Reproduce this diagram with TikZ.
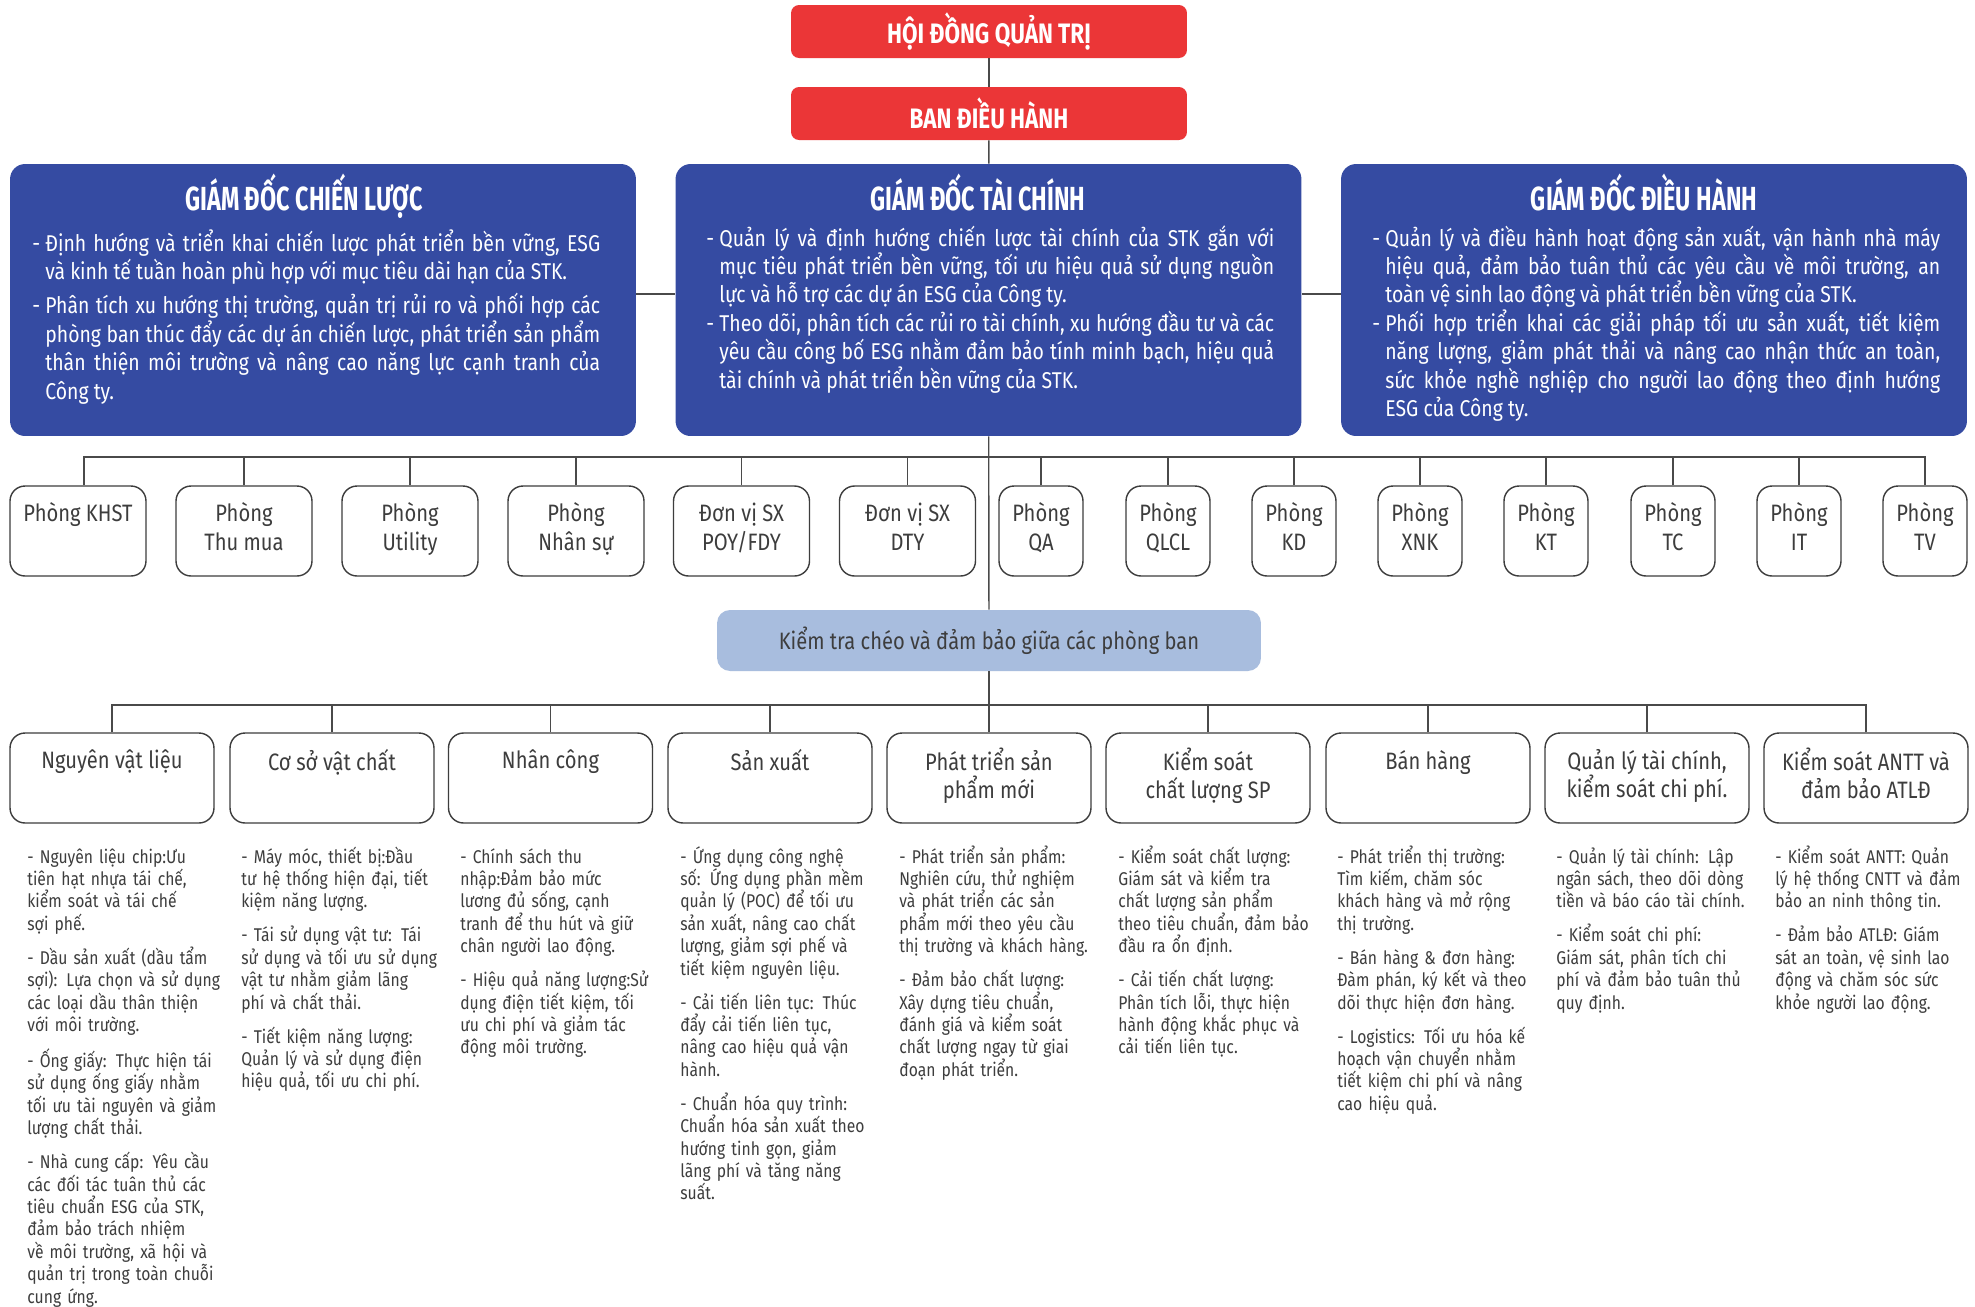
\documentclass[tikz,border=0pt]{standalone}
\usepackage{fontspec}
\setmainfont{Fira Sans}[FakeStretch=0.85]
\newfontfamily\headfont{Fira Sans}[FakeStretch=0.7]
\newfontfamily\boardfont{Fira Sans}[FakeStretch=0.8]
\usepackage{tikz}
\usetikzlibrary{positioning,calc}

\definecolor{boardred}{HTML}{EB3637}
\definecolor{dirblue}{HTML}{354BA2}
\definecolor{checkblue}{HTML}{A8BDDE}
\definecolor{textgrey}{HTML}{3D3D3D}
\definecolor{linegrey}{HTML}{4A4A4A}

\newcommand{\gach}{\noindent\llap{- }}

\tikzstyle{board} = [rectangle, rounded corners=0.16cm, minimum width=7.92cm, minimum height=1.06cm, fill=boardred, text=white, font=\boardfont\bfseries\fontsize{16}{18}\selectfont]
\tikzstyle{director} = [rectangle, rounded corners=0.3cm, minimum width=12.52cm, minimum height=5.44cm, fill=dirblue]
\tikzstyle{dirhead} = [anchor=base, text=white, font=\headfont\bfseries\fontsize{19}{21}\selectfont]
\tikzstyle{dirtext} = [anchor=base west, inner sep=0pt, text width=11.1cm, align=justify, text=white, font=\fontsize{13}{16.2}\selectfont]
\tikzstyle{dept} = [rectangle, rounded corners=0.3cm, draw=textgrey, line width=0.8pt, minimum width=2.72cm, minimum height=1.8cm, align=center, text=textgrey, font=\fontsize{13.5}{16.4}\selectfont, execute at begin node={\rule{0pt}{14pt}}, execute at end node={\rule[-5pt]{0pt}{5pt}}]
\tikzstyle{deptsmall} = [dept, minimum width=1.68cm]
\tikzstyle{check} = [rectangle, rounded corners=0.26cm, minimum width=10.88cm, minimum height=1.22cm, fill=checkblue, text=textgrey, font=\fontsize{13.5}{16}\selectfont]
\tikzstyle{area} = [dept, minimum width=4.08cm, font=\fontsize{13.5}{16}\selectfont]
\tikzstyle{note} = [anchor=base west, inner sep=0pt, text width=4.2cm, align=left, text=textgrey, font=\fontsize{10.5}{12.75}\selectfont]
\tikzstyle{line} = [draw=linegrey, line width=0.8pt]

\begin{document}
\begin{tikzpicture}[x=0.02cm, y=-0.02cm]
\useasboundingbox (0,0) rectangle (1975,1306);
\fill [white] (0,0) rectangle (1975,1306);

% Lãnh đạo
\node (hdqt) [board] at (989,31.5) {HỘI ĐỒNG QUẢN TRỊ};
\node (bdh) [board] at (989,113.5) {BAN ĐIỀU HÀNH};

% Ba giám đốc
\node (gdcl) [director] at (323,300) {};
\node (gdtc) [director] at (988.5,300) {};
\node (gddh) [director] at (1654,300) {};

\node (gdcl-h) [dirhead] at (304,210) {GIÁM ĐỐC CHIẾN LƯỢC};
\node (gdtc-h) [dirhead] at (978,210) {GIÁM ĐỐC TÀI CHÍNH};
\node (gddh-h) [dirhead] at (1644,210) {GIÁM ĐỐC ĐIỀU HÀNH};

\node (gdcl-t) [dirtext] at (45,251) {\gach Định hướng và triển khai chiến lược phát triển bền vững, ESG\linebreak
và kinh tế tuần hoàn phù hợp với mục tiêu dài hạn của STK.\par\vspace{3.4pt}
\gach Phân tích xu hướng thị trường, quản trị rủi ro và phối hợp các\linebreak
phòng ban thúc đẩy các dự án chiến lược, phát triển sản phẩm\linebreak
thân thiện môi trường và nâng cao năng lực cạnh tranh của\linebreak
Công ty.};
\node (gdtc-t) [dirtext] at (719,246) {\gach Quản lý và định hướng chiến lược tài chính của STK gắn với\linebreak
mục tiêu phát triển bền vững, tối ưu hiệu quả sử dụng nguồn\linebreak
lực và hỗ trợ các dự án ESG của Công ty.\par
\gach Theo dõi, phân tích các rủi ro tài chính, xu hướng đầu tư và các\linebreak
yêu cầu công bố ESG nhằm đảm bảo tính minh bạch, hiệu quả\linebreak
tài chính và phát triển bền vững của STK.};
\node (gddh-t) [dirtext] at (1385,246) {\gach Quản lý và điều hành hoạt động sản xuất, vận hành nhà máy\linebreak
hiệu quả, đảm bảo tuân thủ các yêu cầu về môi trường, an\linebreak
toàn vệ sinh lao động và phát triển bền vững của STK.\par
\gach Phối hợp triển khai các giải pháp tối ưu sản xuất, tiết kiệm\linebreak
năng lượng, giảm phát thải và nâng cao nhận thức an toàn,\linebreak
sức khỏe nghề nghiệp cho người lao động theo định hướng\linebreak
ESG của Công ty.};

% Phòng ban
\node (khst) [dept] at (78,531) {Phòng KHST\\~};
\node (thumua) [dept] at (244,531) {Phòng\\Thu mua};
\node (utility) [dept] at (410,531) {Phòng\\Utility};
\node (nhansu) [dept] at (576,531) {Phòng\\Nhân sự};
\node (poy) [dept] at (741.5,531) {Đơn vị SX\\POY/FDY};
\node (dty) [dept] at (907.5,531) {Đơn vị SX\\DTY};
\node (qa) [deptsmall] at (1041,531) {Phòng\\QA};
\node (qlcl) [deptsmall] at (1168,531) {Phòng\\QLCL};
\node (kd) [deptsmall] at (1294,531) {Phòng\\KD};
\node (xnk) [deptsmall] at (1420,531) {Phòng\\XNK};
\node (kt) [deptsmall] at (1546,531) {Phòng\\KT};
\node (tc) [deptsmall] at (1673,531) {Phòng\\TC};
\node (it) [deptsmall] at (1799,531) {Phòng\\IT};
\node (tv) [deptsmall] at (1925,531) {Phòng\\TV};

\node (check) [check] at (989,640.5) {Kiểm tra chéo và đảm bảo giữa các phòng ban};

% Lĩnh vực
\node (nvl) [area] at (112,778) {Nguyên vật liệu\\~};
\node (csvc) [area] at (332,778) {Cơ sở vật chất\\~};
\node (nc) [area] at (550.5,778) {Nhân công\\~};
\node (sx) [area] at (770,778) {Sản xuất\\~};
\node (ptsp) [area] at (989,778) {Phát triển sản\\phẩm mới};
\node (kscl) [area] at (1208,778) {Kiểm soát\\chất lượng SP};
\node (bh) [area] at (1428,778) {Bán hàng\\~};
\node (qltc) [area] at (1647,778) {Quản lý tài chính,\\kiểm soát chi phí.};
\node (antt) [area] at (1866,778) {Kiểm soát ANTT và\\đảm bảo ATLĐ};

% Mô tả
\node (nvl-t) [note] at (27,863) {- Nguyên liệu chip:Ưu\\
tiên hạt nhựa tái chế,\\
kiểm soát và tái chế\\
sợi phế.\\[6.6pt]
- Dầu sản xuất (dầu tẩm\\
sợi): Lựa chọn và sử dụng\\
các loại dầu thân thiện\\
với môi trường.\\[6.6pt]
- Ống giấy: Thực hiện tái\\
sử dụng ống giấy nhằm\\
tối ưu tài nguyên và giảm\\
lượng chất thải.\\[6.6pt]
- Nhà cung cấp: Yêu cầu\\
các đối tác tuân thủ các\\
tiêu chuẩn ESG của STK,\\
đảm bảo trách nhiệm\\
về môi trường, xã hội và\\
quản trị trong toàn chuỗi\\
cung ứng.};
\node (csvc-t) [note] at (241,863) {- Máy móc, thiết bị:Đầu\\
tư hệ thống hiện đại, tiết\\
kiệm năng lượng.\\[6.6pt]
- Tái sử dụng vật tư: Tái\\
sử dụng và tối ưu sử dụng\\
vật tư nhằm giảm lãng\\
phí và chất thải.\\[6.6pt]
- Tiết kiệm năng lượng:\\
Quản lý và sử dụng điện\\
hiệu quả, tối ưu chi phí.};
\node (nc-t) [note] at (460,863) {- Chính sách thu\\
nhập:Đảm bảo mức\\
lương đủ sống, cạnh\\
tranh để thu hút và giữ\\
chân người lao động.\\[6.6pt]
- Hiệu quả năng lượng:Sử\\
dụng điện tiết kiệm, tối\\
ưu chi phí và giảm tác\\
động môi trường.};
\node (sx-t) [note] at (680,863) {- Ứng dụng công nghệ\\
số: Ứng dụng phần mềm\\
quản lý (POC) để tối ưu\\
sản xuất, nâng cao chất\\
lượng, giảm sợi phế và\\
tiết kiệm nguyên liệu.\\[6.6pt]
- Cải tiến liên tục: Thúc\\
đẩy cải tiến liên tục,\\
nâng cao hiệu quả vận\\
hành.\\[6.6pt]
- Chuẩn hóa quy trình:\\
Chuẩn hóa sản xuất theo\\
hướng tinh gọn, giảm\\
lãng phí và tăng năng\\
suất.};
\node (ptsp-t) [note] at (899,863) {- Phát triển sản phẩm:\\
Nghiên cứu, thử nghiệm\\
và phát triển các sản\\
phẩm mới theo yêu cầu\\
thị trường và khách hàng.\\[6.6pt]
- Đảm bảo chất lượng:\\
Xây dựng tiêu chuẩn,\\
đánh giá và kiểm soát\\
chất lượng ngay từ giai\\
đoạn phát triển.};
\node (kscl-t) [note] at (1118,863) {- Kiểm soát chất lượng:\\
Giám sát và kiểm tra\\
chất lượng sản phẩm\\
theo tiêu chuẩn, đảm bảo\\
đầu ra ổn định.\\[6.6pt]
- Cải tiến chất lượng:\\
Phân tích lỗi, thực hiện\\
hành động khắc phục và\\
cải tiến liên tục.};
\node (bh-t) [note] at (1337,863) {- Phát triển thị trường:\\
Tìm kiếm, chăm sóc\\
khách hàng và mở rộng\\
thị trường.\\[6.6pt]
- Bán hàng \& đơn hàng:\\
Đàm phán, ký kết và theo\\
dõi thực hiện đơn hàng.\\[6.6pt]
- Logistics: Tối ưu hóa kế\\
hoạch vận chuyển nhằm\\
tiết kiệm chi phí và nâng\\
cao hiệu quả.};
\node (qltc-t) [note] at (1556,863) {- Quản lý tài chính: Lập\\
ngân sách, theo dõi dòng\\
tiền và báo cáo tài chính.\\[6.6pt]
- Kiểm soát chi phí:\\
Giám sát, phân tích chi\\
phí và đảm bảo tuân thủ\\
quy định.};
\node (antt-t) [note] at (1775,863) {- Kiểm soát ANTT: Quản\\
lý hệ thống CNTT và đảm\\
bảo an ninh thông tin.\\[6.6pt]
- Đảm bảo ATLĐ: Giám\\
sát an toàn, vệ sinh lao\\
động và chăm sóc sức\\
khỏe người lao động.};

% Đường nối
\coordinate (bus1) at (989,457);
\coordinate (bus2) at (989,705);
\draw [line] (hdqt) -- (bdh);
\draw [line] (bdh) -- (gdtc);
\draw [line] ([yshift=0.12cm]gdcl.east) -- ([yshift=0.12cm]gdtc.west);
\draw [line] ([yshift=0.12cm]gdtc.east) -- ([yshift=0.12cm]gddh.west);
\draw [line] (gdtc) -- (check);
\draw [line] (check) -- (ptsp);
\draw [line] ([xshift=0.12cm]khst.north) |- (bus1);
\foreach \n in {thumua,utility,nhansu,poy,dty,qa,qlcl,kd,xnk,kt,tc,it,tv}
  \draw [line] (\n.north) |- (bus1);
\foreach \n in {nvl,csvc,nc,sx,kscl,bh,qltc,antt}
  \draw [line] (\n.north) |- (bus2);

\end{tikzpicture}
\end{document}
